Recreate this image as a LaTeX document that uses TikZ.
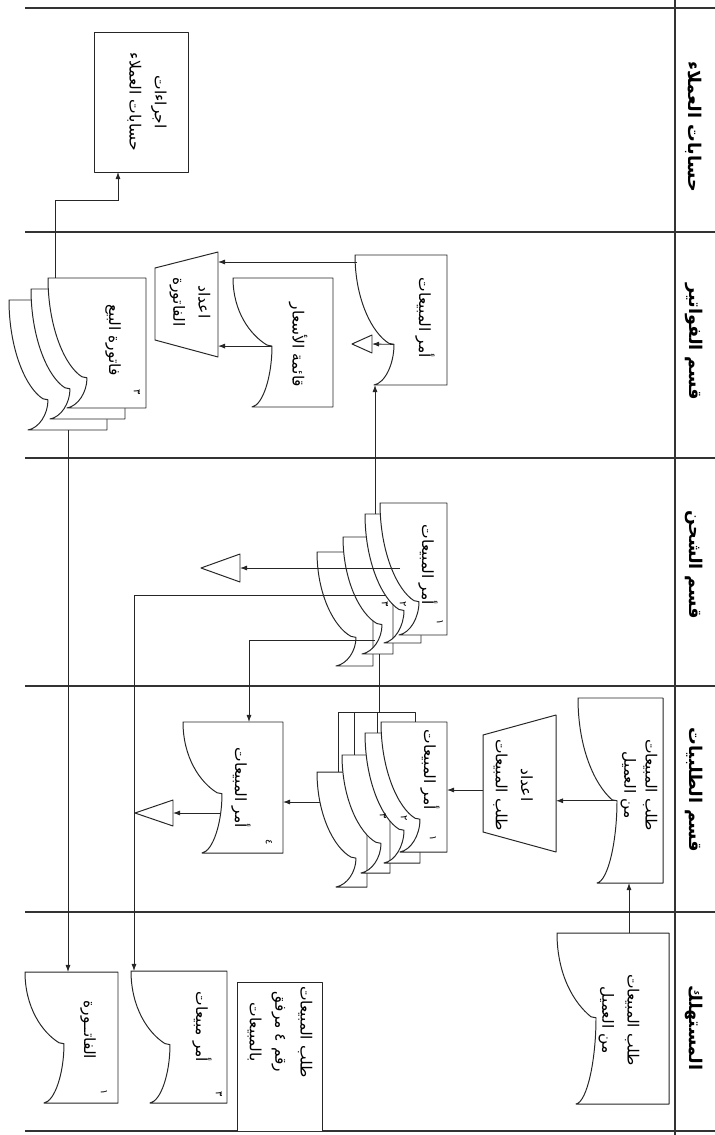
\documentclass[tikz,border=0pt]{standalone}
\usepackage{fontspec}
\usepackage{tikz}
\usetikzlibrary{arrows.meta}
\newfontfamily\arabicfont[Script=Arabic]{DejaVu Sans}
\TeXXeTstate=1
\newcommand{\ar}[1]{\beginR#1\endR}

\begin{document}
\begin{tikzpicture}[
        x=0.025cm, y=-0.025cm,
        >={Latex[length=5pt,width=3.6pt]},
        lane_line/.style={line width=1.1pt, black!80},
        doc_line/.style={line width=0.7pt, black!85, fill=white, line join=round},
        flow/.style={line width=0.6pt, black!85},
        ar_label/.style={rotate=-90, align=center, inner sep=0pt, font=\arabicfont\fontsize{11}{18}\selectfont},
        head_label/.style={rotate=-90, inner sep=0pt, font=\arabicfont\bfseries\fontsize{12.5}{14}\selectfont},
        num_label/.style={rotate=-90, inner sep=0pt, font=\arabicfont\fontsize{7}{8}\selectfont},
        pics/doc/.style n args={3}{code={
            \draw[doc_line] (0,0) -- (#1,0) -- (#1,#2) -- (19,#2)
                .. controls (30,{#2-2}) and (39,{(1+#3)/2*#2}) .. (39,{#3*#2+1})
                -- (34,{#3*#2})
                .. controls (17,{(#3-0.08)*#2}) and (0,{#3/2*#2}) .. cycle;
            \coordinate (-n) at (39,{#3*#2+1});
        }}
    ]

    \useasboundingbox (0,0) rectangle (715,1135);

    % swimlanes
    \foreach \ly in {8,232,458,686,912,1131}
        \draw[lane_line] (25,\ly) -- (715,\ly);
    \draw[lane_line] (675,0) -- (675,1135);

    \node[head_label] (h_acct) at (694,127) {\ar{حسابات العملاء}};
    \node[head_label] (h_bill) at (694,342) {\ar{قسم الفواتير}};
    \node[head_label] (h_ship) at (694,565) {\ar{قسم الشحن}};
    \node[head_label] (h_ord) at (694,790) {\ar{قسم الطلبيات}};
    \node[head_label] (h_cust) at (694,1028) {\ar{المستهلك}};

    % customer accounts lane
    \draw[doc_line] (94,32) rectangle (188,172);
    \node[ar_label] (acct) at (147,102) {\ar{اجراءات}\\\ar{حسابات العملاء}};
    \coordinate (acct_in) at (118,172);

    % billing lane
    \pic (billorder) at (355,255) {doc={92}{130}{0.68}};
    \node[ar_label] (billorder_t) at (425,318) {\ar{أمر المبيعات}};
    \pic (pricelist) at (233,278) {doc={100}{129}{0.52}};
    \node[ar_label] (pricelist_t) at (298,345) {\ar{قائمة الأسعار}};

    \draw[doc_line] (218,252) -- (218,357) -- (155,340) -- (155,268) -- cycle;
    \node[ar_label] (prepinv) at (190,302) {\ar{اعداد}\\\ar{الفاتورة}};
    \coordinate (prepinv_r) at (218,262);
    \coordinate (billorder_out) at (357,262);
    \coordinate (billorder_in) at (375,385);

    \coordinate (tri1) at (372,344);
    \draw[doc_line] (tri1) ++(0,-9) -- ++(0,18) -- ++(-20,-9) -- cycle;

    \pic (inv3) at (9,300) {doc={98}{130}{0.76}};
    \pic (inv2) at (31,289) {doc={94}{130}{0.76}};
    \pic (inv1) at (48,278) {doc={98}{130}{0.76}};
    \node[ar_label] (inv_t) at (113,340) {\ar{فاتورة البيع}};
    \node[num_label] (inv_n) at (137,392) {٣};
    \coordinate (inv_top) at (55,278);
    \coordinate (inv_bot) at (68,430);

    % shipping lane
    \pic (sh4) at (317,552) {doc={56}{114}{0.74}};
    \pic (sh3) at (343,537) {doc={50}{117}{0.74}};
    \pic (sh2) at (365,514) {doc={56}{129}{0.74}};
    \pic (sh1) at (380,503) {doc={67}{132}{0.74}};
    \node[ar_label] (sh_t) at (428,565) {\ar{أمر المبيعات}};
    \node[num_label] (sh1_n) at (440,622) {١};
    \node[num_label] (sh2_n) at (403,604) {٢};
    \node[num_label] (sh3_n) at (385,604) {٣};
    \coordinate (sh_up) at (375,514);
    \coordinate (sh_down) at (379,654);
    \coordinate (sh_out1) at (400,568);
    \coordinate (sh_out2) at (385,595);
    \coordinate (sh_out3) at (375,640);

    \coordinate (tri2) at (240,568);
    \draw[doc_line] (tri2) ++(0,-14) -- ++(0,28) -- ++(-39,-14) -- cycle;

    % orders lane
    \pic (ordreq) at (578,698) {doc={85}{185}{0.55}};
    \node[ar_label] (ordreq_t) at (639,785) {\ar{طلب المبيعات}\\[-3pt]\ar{من العميل}};
    \coordinate (ordreq_in) at (629,883);

    \draw[doc_line] (556,715) -- (556,852) -- (483,832) -- (483,735) -- cycle;
    \node[ar_label] (prepord) at (513,785) {\ar{اعداد}\\\ar{طلب المبيعات}};
    \coordinate (prepord_r) at (556,793);
    \coordinate (prepord_l) at (483,790);

    \draw[doc_line] (338,712) rectangle (415,800);
    \draw[doc_line] (354,712) -- (354,760) (377,712) -- (377,740);
    \pic (o4) at (317,772) {doc={50}{115}{0.74}};
    \pic (o3) at (342,755) {doc={48}{118}{0.74}};
    \pic (o2) at (365,733) {doc={55}{130}{0.74}};
    \pic (o1) at (381,722) {doc={66}{130}{0.74}};
    \node[ar_label] (o_t) at (430,770) {\ar{أمر المبيعات}};
    \node[num_label] (o1_n) at (433,838) {١};
    \node[num_label] (o2_n) at (404,818) {٢};
    \node[num_label] (o3_n) at (383,816) {٣};
    \coordinate (o1_r) at (447,790);
    \coordinate (o_top) at (379,712);
    \coordinate (o_out) at (320,802);

    \pic (ordorder) at (183,722) {doc={100}{131}{0.54}};
    \node[ar_label] (ordorder_t) at (241,788) {\ar{أمر المبيعات}};
    \node[num_label] (ordorder_n) at (269,842) {٤};
    \coordinate (ordorder_in) at (249,722);
    \coordinate (ordorder_r) at (283,802);
    \coordinate (ordorder_out) at (220,813);

    \coordinate (tri3) at (173,813);
    \draw[doc_line] (tri3) ++(0,-13) -- ++(0,26) -- ++(-38,-13) -- cycle;

    % customer lane
    \pic (custreq) at (557,933) {doc={112}{171}{0.49}};
    \node[ar_label] (custreq_t) at (619,1020) {\ar{طلب المبيعات}\\\ar{من العميل}};
    \coordinate (custreq_out) at (629,933);

    \draw[doc_line] (237,1131) -- (237,982) -- (322,982) -- (322,1131);
    \node[ar_label] (note) at (280,1032) {\ar{طلب المبيعات}\\\ar{رقم ٤ مرفق}\\\ar{بالمبيعات}};

    \pic (custorder) at (131,971) {doc={96}{132}{0.55}};
    \node[ar_label] (custorder_t) at (202,1027) {\ar{أمر مبيعات}};
    \node[num_label] (custorder_n) at (219,1094) {٣};
    \coordinate (custorder_in) at (134,971);

    \pic (custinv) at (25,972) {doc={93}{131}{0.54}};
    \node[ar_label] (custinv_t) at (88,1030) {\ar{الفاتــورة}};
    \node[num_label] (custinv_n) at (104,1092) {١};
    \coordinate (custinv_in) at (68,972);

    % flows
    \draw[flow,->] (custreq_out) -- (ordreq_in);
    \draw[flow,->] (ordreq-n) -- (ordreq-n -| prepord_r);
    \draw[flow,->] (prepord_l) -- (o1_r);
    \draw[flow,->] (o_out) -- (ordorder_r);
    \draw[flow,->] (ordorder_out) -- (tri3);
    \draw[flow] (o_top) -- (sh_down);
    \draw[flow,->] (sh_up) -- (billorder_in);
    \draw[flow,->] (sh_out1) -- (tri2);
    \draw[flow,->] (sh_out2) -| (custorder_in);
    \draw[flow,->] (sh_out3) -| (ordorder_in);
    \draw[flow,->] (billorder_out) -- (prepinv_r);
    \draw[flow,->] (pricelist-n) -- (pricelist-n -| prepinv_r);
    \draw[flow,->] (billorder-n) -- (tri1);
    \draw[flow,->] (inv_top) -- ++(0,-78) -| (acct_in);
    \draw[flow,->] (inv_bot) -- (custinv_in);

\end{tikzpicture}
\end{document}
